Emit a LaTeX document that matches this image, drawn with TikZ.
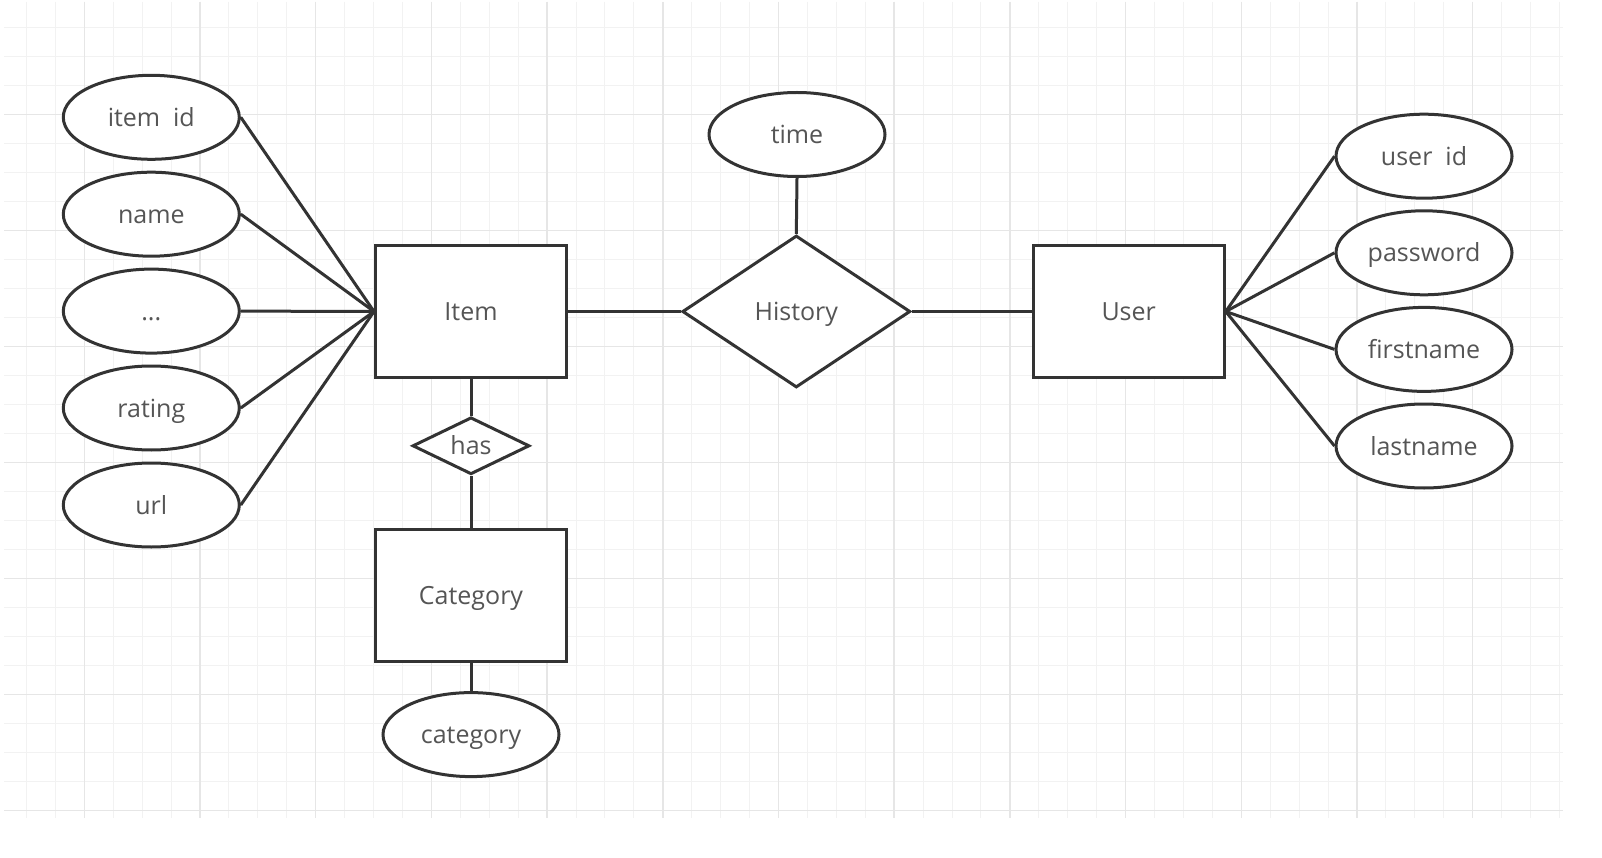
\documentclass[tikz,border=0pt]{standalone}
\usepackage{fontspec}
\setmainfont{Open Sans}
\usetikzlibrary{shapes.geometric}
\definecolor{lc}{HTML}{333333}
\definecolor{tc}{HTML}{555555}
\definecolor{gmin}{HTML}{F2F2F2}
\definecolor{gmaj}{HTML}{E6E6E6}
\begin{document}
\begin{tikzpicture}[x=1pt,y=-1pt,
  every node/.style={font=\fontsize{25}{30}\selectfont, text=tc, text height=18pt, text depth=0pt, inner sep=0pt},
  attr/.style={draw=lc, line width=3pt, ellipse, minimum width=176pt, minimum height=84pt, fill=white},
  entity/.style={draw=lc, line width=3pt, rectangle, minimum width=191pt, minimum height=132pt, fill=white},
  rel/.style={draw=lc, line width=3pt, diamond, fill=white},
  conn/.style={draw=lc, line width=3pt},
  gridminor/.style={draw=gmin, line width=1pt},
  gridmajor/.style={draw=gmaj, line width=1.5pt}]
\useasboundingbox[fill=white] (0,0) rectangle (1602,858);
% grid
\foreach \k in {0,...,53} {\pgfmathsetmacro\gx{26.45+28.925*\k}\draw[gridminor] (\gx,2) -- (\gx,818);}
\foreach \k in {0,...,27} {\pgfmathsetmacro\gy{27.3+29*\k}\draw[gridminor] (4,\gy) -- (1563,\gy);}
\foreach \k in {0,...,12} {\pgfmathsetmacro\gx{84.3+115.7*\k}\draw[gridmajor] (\gx,2) -- (\gx,818);}
\foreach \k in {0,...,6} {\pgfmathsetmacro\gy{114.3+116*\k}\draw[gridmajor] (4,\gy) -- (1563,\gy);}
% entities
\node[entity] (item) at (471,311.5) {Item};
\node[entity] (user) at (1128.7,311.5) {User};
\node[entity] (cat) at (471,595) {Category};
% relationships
\node[rel, minimum width=228pt, minimum height=152pt, label={center:History}] (hist) at (796.3,311.5) {};
\node[rel, minimum width=117pt, minimum height=57pt, label={center:has}] (has) at (471,445.8) {};
% attributes
\node[attr] (iid) at (151.3,117.3) {item\ \ id};
\node[attr] (iname) at (151.3,214.2) {name};
\node[attr] (idots) at (151.3,311.1) {...};
\node[attr] (irate) at (151.3,408) {rating};
\node[attr] (iurl) at (151.3,505) {url};
\node[attr] (time) at (797,134.5) {time};
\node[attr] (uid) at (1424,156.2) {user\ \ id};
\node[attr] (upw) at (1424,252.8) {password};
\node[attr] (ufn) at (1424,349.4) {firstname};
\node[attr] (uln) at (1424,446) {lastname};
\node[attr] (ccat) at (471,734.6) {category};
% connectors
\foreach \a in {iid,iname,idots,irate,iurl} {\draw[conn] (\a.east) -- (item.west);}
\foreach \a in {uid,upw,ufn,uln} {\draw[conn] (user.east) -- (\a.west);}
\draw[conn] (item.east) -- (hist.west);
\draw[conn] (hist.east) -- (user.west);
\draw[conn] (time.south) -- (hist.north);
\draw[conn] (item.south) -- (has.north);
\draw[conn] (has.south) -- (cat.north);
\draw[conn] (cat.south) -- (ccat.north);
\end{tikzpicture}
\end{document}
